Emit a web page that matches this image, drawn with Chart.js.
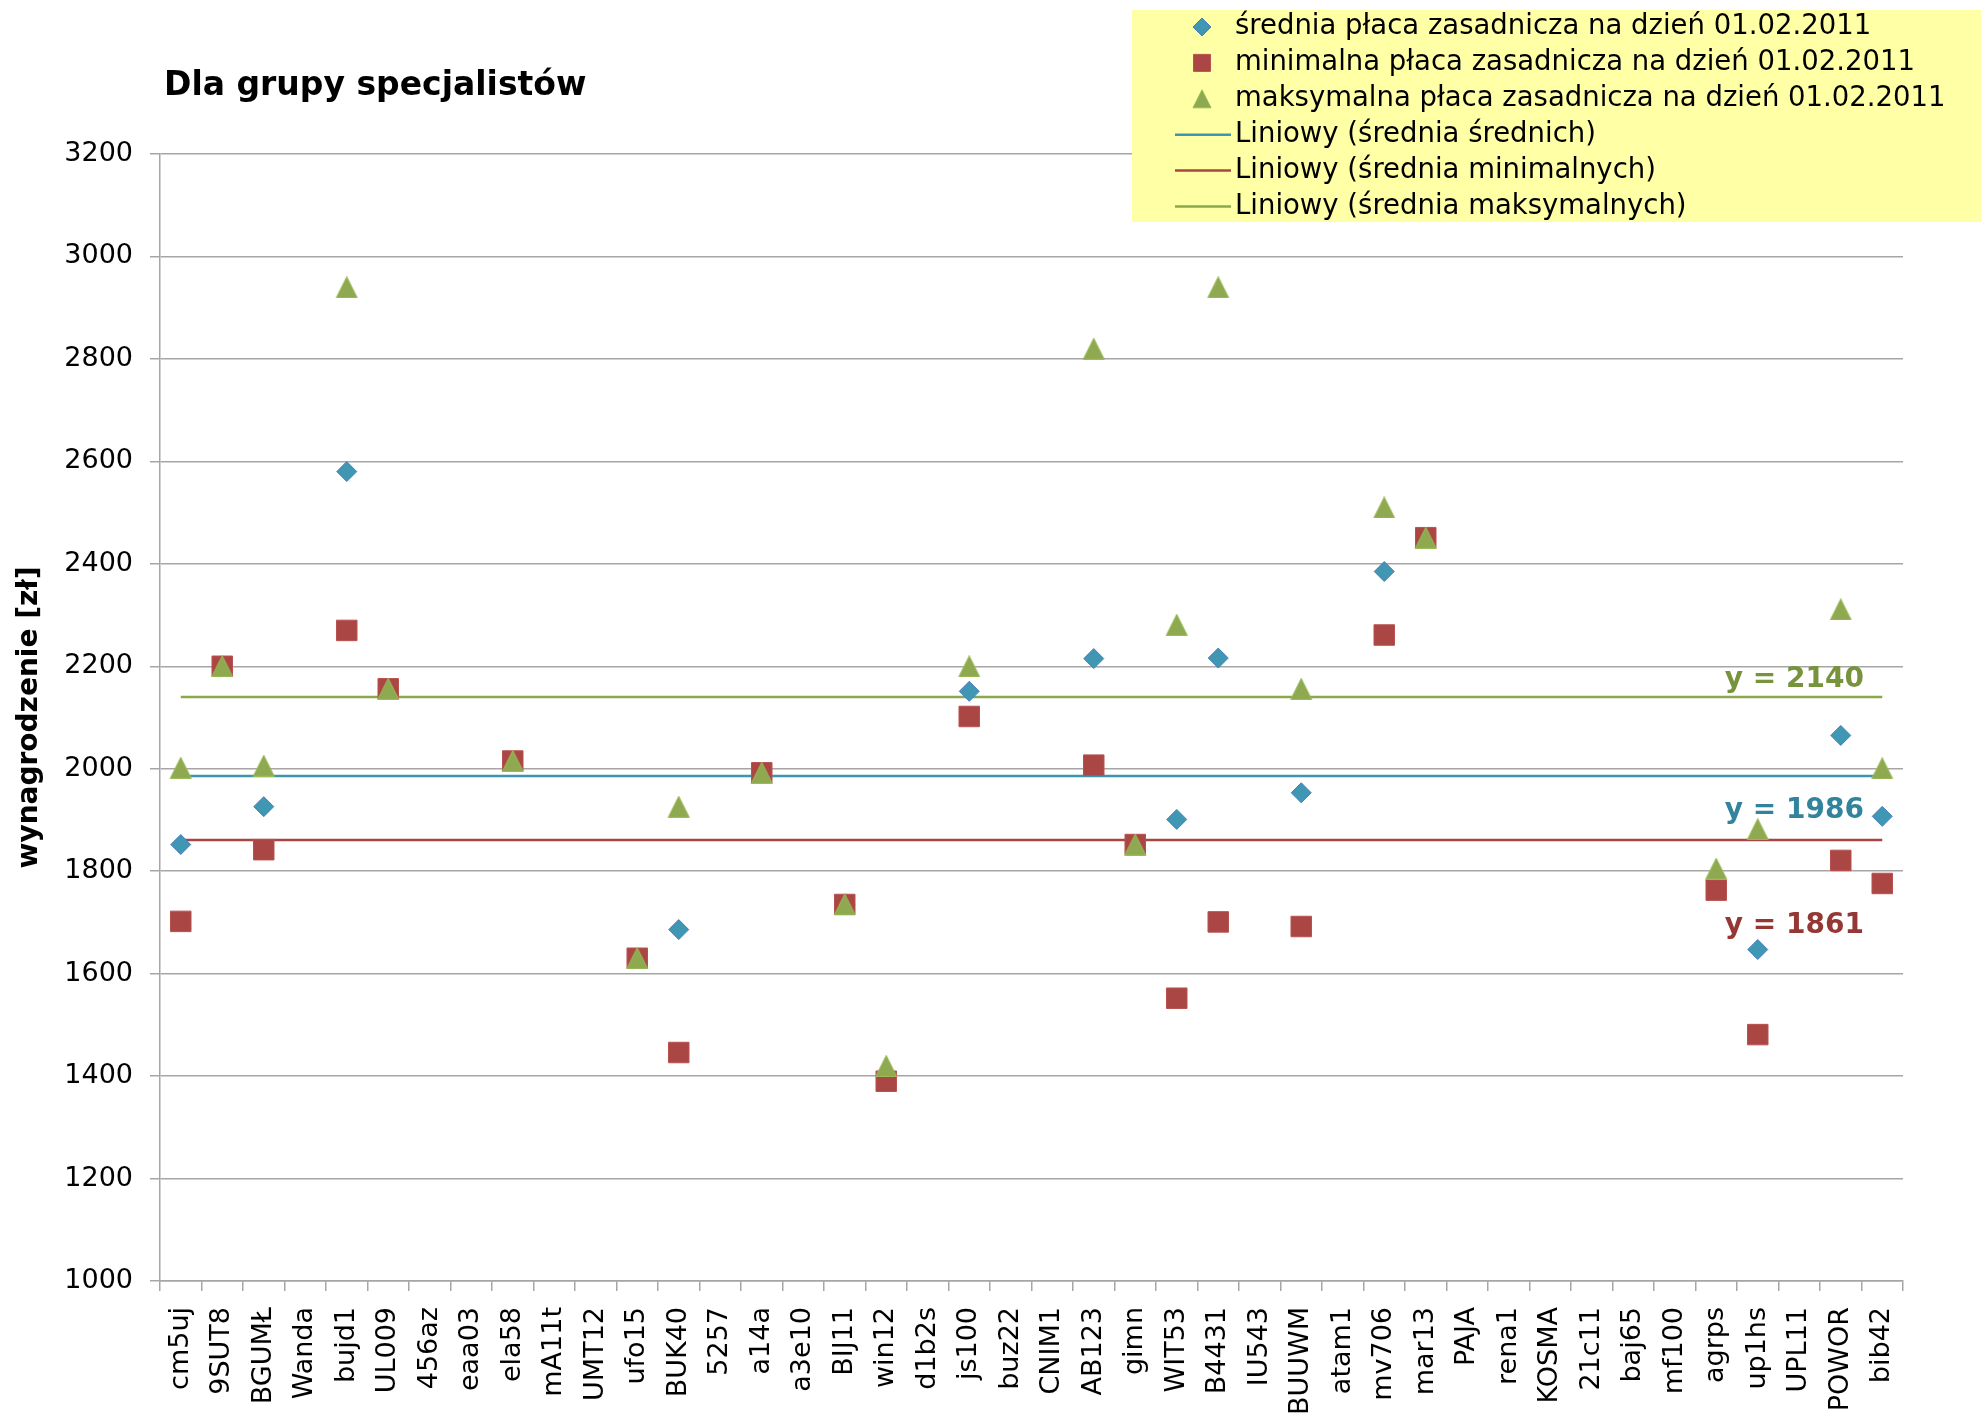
<!DOCTYPE html>
<html lang="pl">
<head>
  <meta charset="UTF-8">
  <title>Dla grupy specjalistów</title>
  <script src="https://cdn.jsdelivr.net/npm/chart.js"></script>
  <style>
    html, body {
      margin: 0;
      padding: 0;
      background: #ffffff;
    }
    #wrap {
      position: relative;
      width: 1981px;
      height: 1415px;
    }
  </style>
</head>
<body>

  <div id="wrap">
    <canvas id="salaryChart" width="1981" height="1415"></canvas>
  </div>

  <script>
    // kody jednostek (oś X)
    const categories = [
      'cm5uj', '9SUT8', 'BGUMŁ', 'Wanda', 'bujd1', 'UL009', '456az', 'eaa03', 'ela58', 'mA11t',
      'UMT12', 'ufo15', 'BUK40', '5257', 'a14a', 'a3e10', 'BIJ11', 'win12', 'd1b2s', 'js100',
      'buz22', 'CNIM1', 'AB123', 'gimn', 'WIT53', 'B4431', 'IU543', 'BUUWM', 'atam1', 'mv706',
      'mar13', 'PAJA', 'rena1', 'KOSMA', '21c11', 'baj65', 'mf100', 'agrps', 'up1hs', 'UPL11',
      'POWOR', 'bib42'
    ];

    // średnia płaca zasadnicza
    const avgPay = [
      1852, 2200, 1926, null, 2580, 2156, null, null, 2015, null,
      null, 1630, 1686, null, 1992, null, 1735, 1405, null, 2151,
      null, null, 2215, 1852, 1901, 2216, null, 1953, null, 2385,
      2451, null, null, null, null, null, null, 1782, 1647, null,
      2065, 1907
    ];

    // minimalna płaca zasadnicza
    const minPay = [
      1702, 2200, 1842, null, 2270, 2156, null, null, 2015, null,
      null, 1630, 1446, null, 1992, null, 1735, 1390, null, 2102,
      null, null, 2007, 1852, 1552, 1701, null, 1692, null, 2261,
      2451, null, null, null, null, null, null, 1763, 1481, null,
      1821, 1776
    ];

    // maksymalna płaca zasadnicza
    const maxPay = [
      2002, 2200, 2006, null, 2940, 2156, null, null, 2015, null,
      null, 1630, 1926, null, 1992, null, 1735, 1420, null, 2200,
      null, null, 2820, 1852, 2281, 2940, null, 2156, null, 2510,
      2451, null, null, null, null, null, null, 1805, 1882, null,
      2311, 2001
    ];

    // linie trendu (średnie)
    const trendAvg = 1986;
    const trendMin = 1861;
    const trendMax = 2140;

    const yMin = 1000;
    const yMax = 3200;
    const yStep = 200;

    const seriesNames = [
      'średnia płaca zasadnicza na dzień 01.02.2011',
      'minimalna płaca zasadnicza na dzień 01.02.2011',
      'maksymalna płaca zasadnicza na dzień 01.02.2011',
      'Liniowy (średnia średnich)',
      'Liniowy (średnia minimalnych)',
      'Liniowy (średnia maksymalnych)'
    ];

    const FONT = "'DejaVu Sans', Verdana, sans-serif";
    const GRID = '#a6a6a6';

    const colors = {
      avg: '#3f97b4', avgEdge: '#4a7ebb',
      min: '#aa4643', minEdge: '#b9524f',
      max: '#8ea94f', maxEdge: '#9bbb59',
      lineAvg: '#3e95b0', lineMin: '#a94644', lineMax: '#8ca84c',
      txtAvg: '#31849b', txtMin: '#953735', txtMax: '#77933c'
    };

    Chart.defaults.font.family = FONT;
    Chart.defaults.color = '#000000';

    function marker(ctx, style, x, y, s, fill, edge) {
      ctx.save();
      ctx.fillStyle = fill;
      ctx.strokeStyle = edge;
      ctx.lineWidth = 1;
      ctx.beginPath();
      if (style === 'diamond') {
        ctx.moveTo(x, y - s / 2);
        ctx.lineTo(x + s / 2, y);
        ctx.lineTo(x, y + s / 2);
        ctx.lineTo(x - s / 2, y);
      } else if (style === 'square') {
        ctx.rect(x - s / 2, y - s / 2, s, s);
      } else {
        ctx.moveTo(x, y - s / 2);
        ctx.lineTo(x + s / 2, y + s / 2);
        ctx.lineTo(x - s / 2, y + s / 2);
      }
      ctx.closePath();
      ctx.fill();
      ctx.stroke();
      ctx.restore();
    }

    // trójkąt wyśrodkowany jak w Excelu (środek obrysu w punkcie)
    const triangleImg = document.createElement('canvas');
    triangleImg.width = 24;
    triangleImg.height = 22;
    marker(triangleImg.getContext('2d'), 'triangle', 12, 11, 21, colors.max, colors.maxEdge);

    // tytuł, etykiety linii trendu, legenda w prawym górnym rogu
    const decorPlugin = {
      id: 'decor',
      afterDraw(chart) {
        const ctx = chart.ctx;
        const y = chart.scales.y;
        const area = chart.chartArea;

        ctx.save();
        ctx.fillStyle = '#000000';
        ctx.font = 'bold 33px ' + FONT;
        ctx.textAlign = 'left';
        ctx.textBaseline = 'middle';
        ctx.fillText('Dla grupy specjalistów', 164, 86);

        ctx.font = 'bold 28px ' + FONT;
        ctx.textAlign = 'right';
        const tx = area.right - 39;
        ctx.fillStyle = colors.txtMax;
        ctx.fillText('y = ' + trendMax, tx, y.getPixelForValue(trendMax) - 17);
        ctx.fillStyle = colors.txtAvg;
        ctx.fillText('y = ' + trendAvg, tx, y.getPixelForValue(trendAvg) + 35);
        ctx.fillStyle = colors.txtMin;
        ctx.fillText('y = ' + trendMin, tx, y.getPixelForValue(trendMin) + 86);

        // legenda
        ctx.fillStyle = '#ffffa6';
        ctx.fillRect(1132, 10, 849, 212);
        const rowY = i => 27 + i * 35.9;
        marker(ctx, 'diamond', 1202, rowY(0), 18, colors.avg, colors.avgEdge);
        marker(ctx, 'square', 1202, rowY(1), 17, colors.min, colors.minEdge);
        marker(ctx, 'triangle', 1202, rowY(2), 18, colors.max, colors.maxEdge);
        const lineCols = [colors.lineAvg, colors.lineMin, colors.lineMax];
        lineCols.forEach((c, k) => {
          ctx.strokeStyle = c;
          ctx.lineWidth = 2.5;
          ctx.beginPath();
          ctx.moveTo(1175, rowY(3 + k));
          ctx.lineTo(1231, rowY(3 + k));
          ctx.stroke();
        });
        ctx.fillStyle = '#000000';
        ctx.font = '27.5px ' + FONT;
        ctx.textAlign = 'left';
        seriesNames.forEach((name, i) => {
          ctx.fillText(name, 1235, rowY(i));
        });
        ctx.restore();
      }
    };

    const ctx = document.getElementById('salaryChart').getContext('2d');

    new Chart(ctx, {
      type: 'line',
      data: {
        labels: categories,
        datasets: [
          {
            label: seriesNames[0],
            data: avgPay,
            showLine: false,
            pointStyle: 'rectRot',
            pointRadius: 10,
            backgroundColor: colors.avg,
            borderColor: colors.avgEdge,
            borderWidth: 1,
            order: 2
          },
          {
            label: seriesNames[1],
            data: minPay,
            showLine: false,
            pointStyle: 'rect',
            pointRadius: 14.5,
            backgroundColor: colors.min,
            borderColor: colors.minEdge,
            borderWidth: 1,
            order: 1
          },
          {
            label: seriesNames[2],
            data: maxPay,
            showLine: false,
            pointStyle: triangleImg,
            pointRadius: 12,
            backgroundColor: colors.max,
            borderColor: colors.maxEdge,
            borderWidth: 1,
            order: 0
          },
          {
            label: seriesNames[3],
            data: categories.map(() => trendAvg),
            borderColor: colors.lineAvg,
            borderWidth: 2.5,
            pointRadius: 0,
            order: 3
          },
          {
            label: seriesNames[4],
            data: categories.map(() => trendMin),
            borderColor: colors.lineMin,
            borderWidth: 2.5,
            pointRadius: 0,
            order: 3
          },
          {
            label: seriesNames[5],
            data: categories.map(() => trendMax),
            borderColor: colors.lineMax,
            borderWidth: 2.5,
            pointRadius: 0,
            order: 3
          }
        ]
      },
      options: {
        responsive: false,
        devicePixelRatio: 1,
        animation: false,
        events: [],
        layout: {
          padding: { top: 154, right: 78, bottom: 0, left: 0 }
        },
        plugins: {
          legend: { display: false },
          tooltip: { enabled: false },
          title: { display: false }
        },
        scales: {
          x: {
            type: 'category',
            offset: true,
            afterFit: s => { s.height = 134; },
            grid: {
              offset: true,
              drawOnChartArea: false,
              drawTicks: true,
              tickLength: 10,
              color: GRID,
              lineWidth: 1.5
            },
            border: { color: GRID, width: 1.5 },
            ticks: {
              autoSkip: false,
              minRotation: 90,
              maxRotation: 90,
              padding: 16,
              color: '#000000',
              font: { size: 27 }
            }
          },
          y: {
            min: yMin,
            max: yMax,
            afterFit: s => { s.width = 160; },
            grid: {
              color: GRID,
              lineWidth: 1.5,
              tickLength: 10
            },
            border: { color: GRID, width: 1.5 },
            ticks: {
              stepSize: yStep,
              padding: 17,
              color: '#000000',
              font: { size: 27 },
              callback: v => String(v)
            },
            title: {
              display: true,
              text: 'wynagrodzenie [zł]',
              color: '#000000',
              font: { size: 28, weight: 'bold' },
              padding: { top: 13, bottom: 0 }
            }
          }
        }
      },
      plugins: [decorPlugin]
    });
  </script>

</body>
</html>
